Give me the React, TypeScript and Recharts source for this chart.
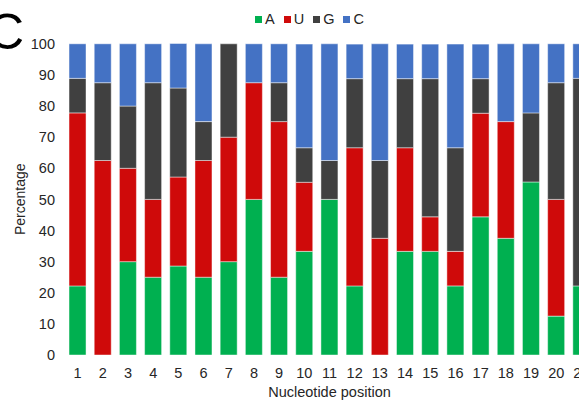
import React from "react";
import { Bar, BarChart, Label, XAxis, YAxis } from "recharts";

const positions = ["1", "2", "3", "4", "5", "6", "7", "8", "9", "10", "11", "12", "13", "14", "15", "16", "17", "18", "19", "20", "21"];
const aValues = [22.2, 0, 30, 25, 28.6, 25, 30, 50, 25, 33.3, 50, 22.2, 0, 33.3, 33.3, 22.2, 44.4, 37.5, 55.6, 12.5, 22.2];
const uValues = [55.6, 62.5, 30, 25, 28.6, 37.5, 40, 37.5, 50, 22.2, 0, 44.4, 37.5, 33.3, 11.1, 11.1, 33.3, 37.5, 0, 37.5, 0];
const gValues = [11.1, 25, 20, 37.5, 28.6, 12.5, 30, 0, 12.5, 11.1, 12.5, 22.2, 25, 22.2, 44.4, 33.3, 11.1, 0, 22.2, 37.5, 66.7];
const cValues = [11.1, 12.5, 20, 12.5, 14.3, 25, 0, 12.5, 12.5, 33.3, 37.5, 11.1, 37.5, 11.1, 11.1, 33.3, 11.1, 25, 22.2, 12.5, 11.1];
const yTicks = [0, 10, 20, 30, 40, 50, 60, 70, 80, 90, 100];

const series = [
  { key: "A", values: aValues, color: "#00B050" },
  { key: "U", values: uValues, color: "#CF0A0A" },
  { key: "G", values: gValues, color: "#404040" },
  { key: "C", values: cValues, color: "#4472C4" },
];

const data = positions.map((pos, i) => {
  const row: Record<string, string | number> = { pos };
  series.forEach((s) => {
    row[s.key] = s.values[i];
  });
  return row;
});

const font = '"Liberation Sans", Arial, sans-serif';
const textColor = "#262626";

function TopLegend() {
  return (
    <div
      style={{
        position: "absolute",
        left: 255,
        top: 11,
        display: "flex",
        alignItems: "center",
        fontSize: 14.5,
        lineHeight: "16px",
        color: textColor,
        fontFamily: font,
      }}
    >
      {series.map((s) => (
        <span key={s.key} style={{ display: "inline-flex", alignItems: "center", marginRight: 9 }}>
          <span style={{ width: 7, height: 7, background: s.color, marginRight: 3 }} />
          {s.key}
        </span>
      ))}
    </div>
  );
}

export default function App() {
  return (
    <div
      style={{
        position: "absolute",
        left: 0,
        top: 0,
        width: 579,
        height: 400,
        overflow: "hidden",
        background: "#fff",
        fontFamily: font,
      }}
    >
      <span
        style={{
          position: "absolute",
          left: -12,
          top: 7,
          fontSize: 50,
          lineHeight: 1,
          color: "#000",
          fontFamily: font,
        }}
      >
        C
      </span>
      <TopLegend />
      <BarChart
        width={594}
        height={400}
        data={data}
        margin={{ top: 43.5, right: 0, bottom: 0, left: 0 }}
        barCategoryGap="16%"
        style={{ fontFamily: font }}
      >
        <XAxis
          dataKey="pos"
          axisLine={false}
          tickLine={false}
          tickSize={0}
          tickMargin={13}
          height={45}
          interval={0}
          tick={{ fill: textColor, fontSize: 14.5 }}
        >
          <Label
            value="Nucleotide position"
            position="insideBottom"
            offset={3}
            style={{ fill: textColor, fontSize: 14.5 }}
          />
        </XAxis>
        <YAxis
          domain={[0, 100]}
          ticks={yTicks}
          interval={0}
          axisLine={false}
          tickLine={false}
          tickSize={0}
          tickMargin={10}
          width={65}
          tick={{ fill: textColor, fontSize: 14.5 }}
        >
          <Label
            value="Percentage"
            angle={-90}
            position="insideLeft"
            offset={20}
            style={{ fill: textColor, fontSize: 14, textAnchor: "middle" }}
          />
        </YAxis>
        {series.map((s) => (
          <Bar
            key={s.key}
            dataKey={s.key}
            name={s.key}
            stackId="nt"
            fill={s.color}
            stroke="#ffffff"
            strokeOpacity={0.6}
            strokeWidth={0.75}
            isAnimationActive={false}
          />
        ))}
      </BarChart>
    </div>
  );
}
